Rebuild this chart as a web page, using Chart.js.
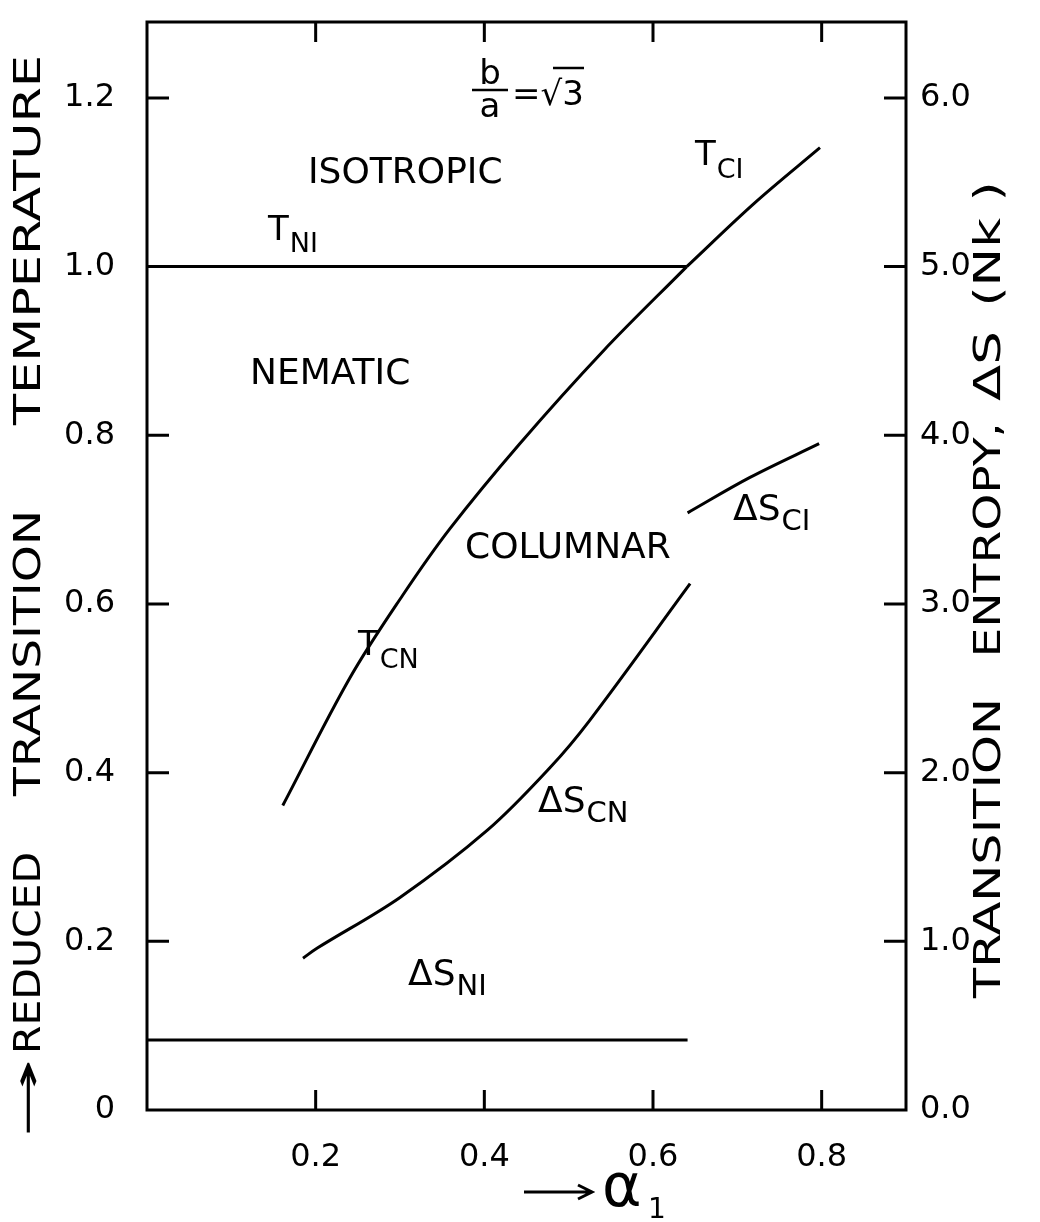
<!DOCTYPE html>
<html>
<head>
<meta charset="utf-8">
<script src="https://cdn.jsdelivr.net/npm/chart.js@4.4.1/dist/chart.umd.min.js"></script>
<style>
  html, body { margin: 0; padding: 0; background: #fff; }
</style>
</head>
<body>
<canvas id="chart" width="1040" height="1222"></canvas>
<script>
// Axis ticks
const xTicks = [0.2, 0.4, 0.6, 0.8];
const tTicks = [0, 0.2, 0.4, 0.6, 0.8, 1.0, 1.2];
const sTicks = [0, 1, 2, 3, 4, 5, 6];

// Reduced transition temperatures vs alpha1
const tniAlpha = [0, 0.64];
const tniVals = [1.0, 1.0];
const tcnAlpha = [0.161, 0.241, 0.303, 0.359, 0.442, 0.541, 0.640];
const tcnVals = [0.361, 0.513, 0.610, 0.689, 0.790, 0.900, 1.0];
const tciAlpha = [0.640, 0.720, 0.798];
const tciVals = [1.0, 1.075, 1.141];

// Transition entropies (Nk) vs alpha1
const sniAlpha = [0, 0.641];
const sniVals = [0.415, 0.415];
const scnAlpha = [0.185, 0.202, 0.300, 0.404, 0.478, 0.525, 0.644];
const scnVals = [0.90, 0.96, 1.26, 1.66, 2.03, 2.31, 3.12];
const sciAlpha = [0.641, 0.715, 0.797];
const sciVals = [3.54, 3.75, 3.95];

const FONT = "DejaVu Sans";

function pts(xs, ys) {
    return xs.map((x, i) => ({ x: x, y: ys[i] }));
}

function lineSet(xs, ys, axis) {
    return {
        data: pts(xs, ys),
        yAxisID: axis,
        showLine: true,
        borderColor: "#000",
        borderWidth: 3,
        pointRadius: 0,
        tension: 0.35,
        fill: false,
    };
}

// text with subscript, x/y = baseline left
function subText(ctx, main, sub, x, y, size, subSize, drop) {
    ctx.font = size + "px " + FONT;
    ctx.fillText(main, x, y);
    const w = ctx.measureText(main).width;
    ctx.font = subSize + "px " + FONT;
    ctx.fillText(sub, x + w + 1, y + drop);
}

// word squeezed to a given length, rotated
function fitWord(ctx, text, cx, cy, span, size, rot) {
    ctx.save();
    ctx.font = size + "px " + FONT;
    const w = ctx.measureText(text).width;
    ctx.translate(cx, cy);
    ctx.rotate(rot);
    ctx.scale(span / w, 1);
    ctx.textAlign = "center";
    ctx.textBaseline = "middle";
    ctx.fillText(text, 0, 0);
    ctx.restore();
}

// no extra room for tick labels at the ends
function noPad(s) {
    s.paddingTop = 0;
    s.paddingBottom = 0;
    s.paddingLeft = 0;
    s.paddingRight = 0;
}

const decor = {
    id: "decor",
    afterDraw(chart) {
        const { ctx, chartArea: a, scales } = chart;
        ctx.save();
        ctx.strokeStyle = "#000";
        ctx.fillStyle = "#000";
        ctx.lineWidth = 3;
        ctx.strokeRect(a.left, a.top, a.right - a.left, a.bottom - a.top);

        // inward ticks
        ctx.beginPath();
        xTicks.forEach(v => {
            const px = scales.x.getPixelForValue(v);
            ctx.moveTo(px, a.bottom); ctx.lineTo(px, a.bottom - 20);
            ctx.moveTo(px, a.top); ctx.lineTo(px, a.top + 20);
        });
        tTicks.forEach(v => {
            if (v === 0) return;
            const py = scales.y.getPixelForValue(v);
            ctx.moveTo(a.left, py); ctx.lineTo(a.left + 22, py);
        });
        sTicks.forEach(v => {
            if (v === 0) return;
            const py = scales.y2.getPixelForValue(v);
            ctx.moveTo(a.right, py); ctx.lineTo(a.right - 22, py);
        });
        ctx.stroke();

        // labels inside the plot
        ctx.textBaseline = "alphabetic";
        ctx.textAlign = "left";
        ctx.font = "36px " + FONT;
        ctx.fillText("ISOTROPIC", 308, 183);
        ctx.fillText("NEMATIC", 250, 384);
        ctx.fillText("COLUMNAR", 465, 558);
        subText(ctx, "T", "NI", 268, 240, 34, 27, 12);
        subText(ctx, "T", "CI", 695, 165, 34, 27, 13);
        subText(ctx, "T", "CN", 358, 655, 34, 27, 13);
        subText(ctx, "\u0394S", "CI", 733, 520, 36, 29, 10);
        subText(ctx, "\u0394S", "CN", 538, 812, 36, 29, 10);
        subText(ctx, "\u0394S", "NI", 408, 985, 36, 29, 10);

        // b/a = sqrt(3)
        ctx.font = "34px " + FONT;
        ctx.textAlign = "center";
        ctx.fillText("b", 490, 84);
        ctx.fillText("a", 490, 117);
        ctx.lineWidth = 2.5;
        ctx.beginPath();
        ctx.moveTo(472, 90); ctx.lineTo(508, 90);
        ctx.stroke();
        ctx.textAlign = "left";
        ctx.fillText("=\u221A3", 512, 105);
        ctx.beginPath();
        ctx.moveTo(553, 68); ctx.lineTo(584, 68);
        ctx.stroke();

        // left title
        fitWord(ctx, "\u2192", 30, 1098, 80, 38, -Math.PI / 2);
        fitWord(ctx, "REDUCED", 30, 953, 202, 38, -Math.PI / 2);
        fitWord(ctx, "TRANSITION", 30, 653, 286, 38, -Math.PI / 2);
        fitWord(ctx, "TEMPERATURE", 30, 240, 370, 38, -Math.PI / 2);

        // right title
        fitWord(ctx, "TRANSITION", 990, 848, 300, 38, -Math.PI / 2);
        fitWord(ctx, "ENTROPY,", 990, 540, 235, 38, -Math.PI / 2);
        fitWord(ctx, "\u0394S", 990, 366, 70, 38, -Math.PI / 2);
        fitWord(ctx, "(Nk )", 990, 244, 125, 38, -Math.PI / 2);

        // bottom title
        ctx.lineWidth = 3;
        ctx.beginPath();
        ctx.moveTo(524, 1192); ctx.lineTo(590, 1192);
        ctx.moveTo(578, 1185); ctx.lineTo(592, 1192); ctx.lineTo(578, 1199);
        ctx.stroke();
        ctx.font = "60px " + FONT;
        ctx.fillText("\u03B1", 602, 1206);
        ctx.font = "28px " + FONT;
        ctx.fillText("1", 648, 1218);
        ctx.restore();
    }
};

const ctx = document.getElementById("chart").getContext("2d");

new Chart(ctx, {
    type: "scatter",
    data: {
        datasets: [
            lineSet(tniAlpha, tniVals, "y"),
            lineSet(tcnAlpha, tcnVals, "y"),
            lineSet(tciAlpha, tciVals, "y"),
            lineSet(sniAlpha, sniVals, "y2"),
            lineSet(scnAlpha, scnVals, "y2"),
            lineSet(sciAlpha, sciVals, "y2"),
        ],
    },
    options: {
        responsive: false,
        animation: false,
        layout: { padding: { top: 22 }, autoPadding: false },
        plugins: { legend: { display: false }, tooltip: { enabled: false } },
        scales: {
            x: {
                type: "linear",
                min: 0,
                max: 0.9,
                grid: { display: false },
                border: { display: false },
                afterBuildTicks: s => { s.ticks = xTicks.map(v => ({ value: v })); },
                afterFit: s => { s.height = 112; noPad(s); },
                ticks: {
                    color: "#000",
                    padding: 20,
                    font: { family: FONT, size: 32 },
                    callback: v => v.toFixed(1),
                },
            },
            y: {
                type: "linear",
                position: "left",
                min: 0,
                max: 1.29,
                grid: { display: false },
                border: { display: false },
                afterBuildTicks: s => { s.ticks = tTicks.map(v => ({ value: v })); },
                afterFit: s => { s.width = 147; noPad(s); },
                ticks: {
                    color: "#000",
                    padding: 24,
                    font: { family: FONT, size: 32 },
                    callback: v => (v === 0 ? "0" : v.toFixed(1)),
                },
            },
            y2: {
                type: "linear",
                position: "right",
                min: 0,
                max: 6.45,
                grid: { display: false },
                border: { display: false },
                afterBuildTicks: s => { s.ticks = sTicks.map(v => ({ value: v })); },
                afterFit: s => { s.width = 134; noPad(s); },
                ticks: {
                    color: "#000",
                    padding: 6,
                    font: { family: FONT, size: 32 },
                    callback: v => v.toFixed(1),
                },
            },
        },
    },
    plugins: [decor],
});
</script>
</body>
</html>
